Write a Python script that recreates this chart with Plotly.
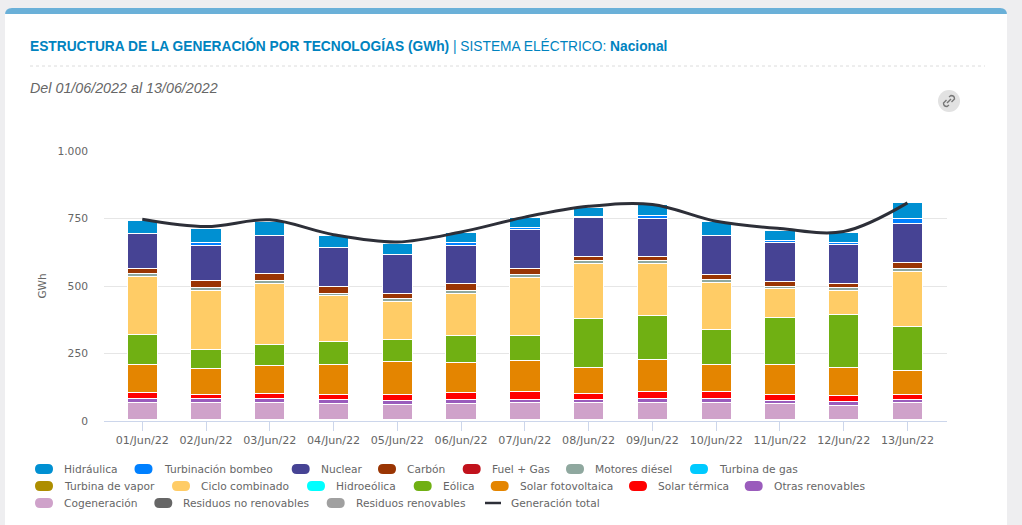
import plotly.graph_objects as go

W, H = 1022, 525
L, R, T, B = 104, 947, 151, 421

dias = ["01/Jun/22", "02/Jun/22", "03/Jun/22", "04/Jun/22", "05/Jun/22", "06/Jun/22", "07/Jun/22",
        "08/Jun/22", "09/Jun/22", "10/Jun/22", "11/Jun/22", "12/Jun/22", "13/Jun/22"]

residuos_renovables = [2] * 13
residuos_no_renovables = [2] * 13
cogeneracion = [66, 66, 66, 62, 58, 62, 66, 66, 66, 66, 62, 54, 66]
otras_renovables = [13, 13, 13, 15, 15, 15, 11.5, 11.5, 14.5, 14.5, 11, 15, 11.5]
solar_termica = [24, 15, 20, 18, 22, 26, 26, 22, 23, 23, 22, 23, 15]
solar_fotovoltaica = [104, 98, 104, 112, 123, 111, 118, 96, 122, 100, 112, 103, 92]
eolica = [111, 70, 78, 85, 81, 100, 93, 179, 160, 130, 174, 194, 160]
hidroeolica = [0] * 13
ciclo_combinado = [212, 219, 226, 167, 138, 156, 212, 204, 193, 174, 104, 92, 204]
turbina_vapor = [0] * 13
turbina_gas = [0] * 13
motores_diesel = [11, 11, 11, 11, 11, 8, 11, 11, 11, 11, 11, 8, 11]
fuel_gas = [0] * 13
carbon = [18, 23, 26, 26, 19, 26, 22, 15, 15, 19, 15, 15, 23]
nuclear = [130, 130, 138, 141, 144, 141, 145, 145, 141, 145, 145, 144, 144]
turbinacion_bombeo = [3, 11, 2, 3, 3, 11, 8, 4, 11, 2, 7, 8, 20]
hidraulica = [48, 54, 52, 43, 38, 39, 39, 35, 41, 49, 40, 39, 57]
generacion_total = [747, 720, 745, 690, 663, 700, 755, 795, 802, 740, 713, 702, 808]

stack = [
    ("Residuos renovables", residuos_renovables, "#a0a0a0"),
    ("Residuos no renovables", residuos_no_renovables, "#666666"),
    ("Cogeneración", cogeneracion, "#cfa2ca"),
    ("Otras renovables", otras_renovables, "#9a5cbc"),
    ("Solar térmica", solar_termica, "#ff0000"),
    ("Solar fotovoltaica", solar_fotovoltaica, "#e48500"),
    ("Eólica", eolica, "#70b013"),
    ("Hidroeólica", hidroeolica, "#00ffff"),
    ("Ciclo combinado", ciclo_combinado, "#ffcc66"),
    ("Turbina de vapor", turbina_vapor, "#ad8e00"),
    ("Turbina de gas", turbina_gas, "#00caff"),
    ("Motores diésel", motores_diesel, "#8fa89f"),
    ("Fuel + Gas", fuel_gas, "#c1121c"),
    ("Carbón", carbon, "#9a3503"),
    ("Nuclear", nuclear, "#464394"),
    ("Turbinación bombeo", turbinacion_bombeo, "#0080ff"),
    ("Hidráulica", hidraulica, "#0090d2"),
]
colores = {n: c for n, _, c in stack}
LINEA = "#2d2f38"

# legend rows: (name, swatch left px)
leyenda = [
    (469, [("Hidráulica", 35), ("Turbinación bombeo", 134.5), ("Nuclear", 291.7), ("Carbón", 378),
           ("Fuel + Gas", 462.7), ("Motores diésel", 566), ("Turbina de gas", 690)]),
    (486, [("Turbina de vapor", 35), ("Ciclo combinado", 172), ("Hidroeólica", 307), ("Eólica", 413.7),
           ("Solar fotovoltaica", 490.7), ("Solar térmica", 629), ("Otras renovables", 744.7)]),
    (503, [("Cogeneración", 35), ("Residuos no renovables", 154.3), ("Residuos renovables", 326.7)]),
]


def px(x):
    return (x - L) / (R - L)


def py(y):
    return (B - y) / (B - T)


def pill(x0, x1, y0, y1, r):
    return (f"M{px(x0 + r)},{py(y0)} L{px(x1 - r)},{py(y0)} Q{px(x1)},{py(y0)} {px(x1)},{py(y0 + r)} "
            f"L{px(x1)},{py(y1 - r)} Q{px(x1)},{py(y1)} {px(x1 - r)},{py(y1)} L{px(x0 + r)},{py(y1)} "
            f"Q{px(x0)},{py(y1)} {px(x0)},{py(y1 - r)} L{px(x0)},{py(y0 + r)} Q{px(x0)},{py(y0)} {px(x0 + r)},{py(y0)} Z")


def path_shape(path, fill, layer="below", line=None):
    return dict(type="path", xref="paper", yref="paper", path=path, fillcolor=fill, layer=layer,
                line=line or dict(width=0))


def text(x, y, s, size, color, family="DejaVu Sans", anchor="left", **kw):
    return dict(xref="paper", yref="paper", x=px(x), y=py(y), text=s, showarrow=False, xanchor=anchor,
                yanchor="middle", align="left", borderpad=0, borderwidth=0, xshift=0,
                font=dict(size=size, color=color, family=family), **kw)


fig = go.Figure()
for nombre, valores, color in stack:
    fig.add_trace(go.Bar(x=dias, y=valores, name=nombre, marker=dict(color=color, line=dict(color="white", width=1)),
                         showlegend=False))
fig.add_trace(go.Scatter(x=dias, y=generacion_total, name="Generación total", mode="lines",
                         line=dict(color=LINEA, width=3, shape="spline", smoothing=1), showlegend=False))

shapes = [
    path_shape(pill(5, 1007, 8, 560, 7), "#6ab0d8"),
    dict(type="rect", xref="paper", yref="paper", x0=px(5), x1=px(1007), y0=py(14), y1=py(525),
         fillcolor="white", line=dict(width=0), layer="below"),
    dict(type="line", xref="paper", yref="paper", x0=px(30), x1=px(985), y0=py(66), y1=py(66), layer="below",
         line=dict(color="#dcdcdc", width=1, dash="dot")),
    dict(type="circle", xref="paper", yref="paper", x0=px(938), x1=px(960), y0=py(90), y1=py(112),
         fillcolor="#e2e2e2", line=dict(width=0), layer="below"),
    path_shape(f"M{px(949)},{py(97)} L{px(951)},{py(95.5)} Q{px(954.5)},{py(95.5)} {px(954.5)},{py(99)} "
               f"L{px(951.5)},{py(102)}", "rgba(0,0,0,0)", line=dict(color="#777777", width=1.4)),
    path_shape(f"M{px(949)},{py(105)} L{px(947)},{py(106.5)} Q{px(943.5)},{py(106.5)} {px(943.5)},{py(103)} "
               f"L{px(946.5)},{py(100)}", "rgba(0,0,0,0)", line=dict(color="#777777", width=1.4)),
    dict(type="line", xref="paper", yref="paper", x0=px(947), x1=px(951), y0=py(103), y1=py(99), layer="below",
         line=dict(color="#777777", width=1.4)),
]

annotations = [
    text(30, 45, "<b>ESTRUCTURA DE LA GENERACIÓN POR TECNOLOGÍAS (GWh)</b> | SISTEMA ELÉCTRICO: <b>Nacional</b>",
         13.75, "#0083bf", "Liberation Sans"),
    text(30, 88, "<i>Del 01/06/2022 al 13/06/2022</i>", 14.3, "#666666", "Liberation Sans"),
]

for y, fila in leyenda:
    for nombre, x in fila:
        shapes.append(path_shape(pill(x, x + 18, y - 5, y + 5, 5), colores[nombre], layer="above"))
        annotations.append(text(x + 29, y, nombre, 10.65, "#666666"))
shapes.append(dict(type="line", xref="paper", yref="paper", x0=px(485), x1=px(501), y0=py(503), y1=py(503),
                   layer="above", line=dict(color=LINEA, width=2.5)))
annotations.append(text(511, 503, "Generación total", 10.65, "#666666"))

fig.update_layout(
    width=W, height=H, autosize=False,
    margin=dict(l=L, r=W - R, t=T, b=H - B, pad=0),
    paper_bgcolor="#eeeef0", plot_bgcolor="rgba(0,0,0,0)",
    barmode="stack", bargap=0.525, separators=",.", showlegend=False,
    font=dict(family="DejaVu Sans", color="#666666"),
    shapes=shapes, annotations=annotations,
    xaxis=dict(type="category", range=[-0.6, 12.62], showgrid=False, showline=True, linecolor="#ccd6eb", linewidth=1,
               ticks="outside", ticklen=9, tickcolor="#ccd6eb", tickwidth=1, tickangle=0,
               tickfont=dict(size=11.1, color="#666666"), zeroline=False),
    yaxis=dict(range=[0, 1000], tickvals=[0, 250, 500, 750, 1000], tickformat=",d", gridcolor="#e6e6e6", gridwidth=1,
               zeroline=False, showline=False, ticks="", ticklabelstandoff=15,
               tickfont=dict(size=10.7, color="#666666"),
               title=dict(text="GWh", font=dict(size=10.5, color="#666666"), standoff=8)),
)

fig.write_html("out.html", config=dict(displayModeBar=False),
               post_script="document.body.style.margin='0';document.body.style.overflow='hidden';"
                           "document.body.style.background='#eeeef0';")
